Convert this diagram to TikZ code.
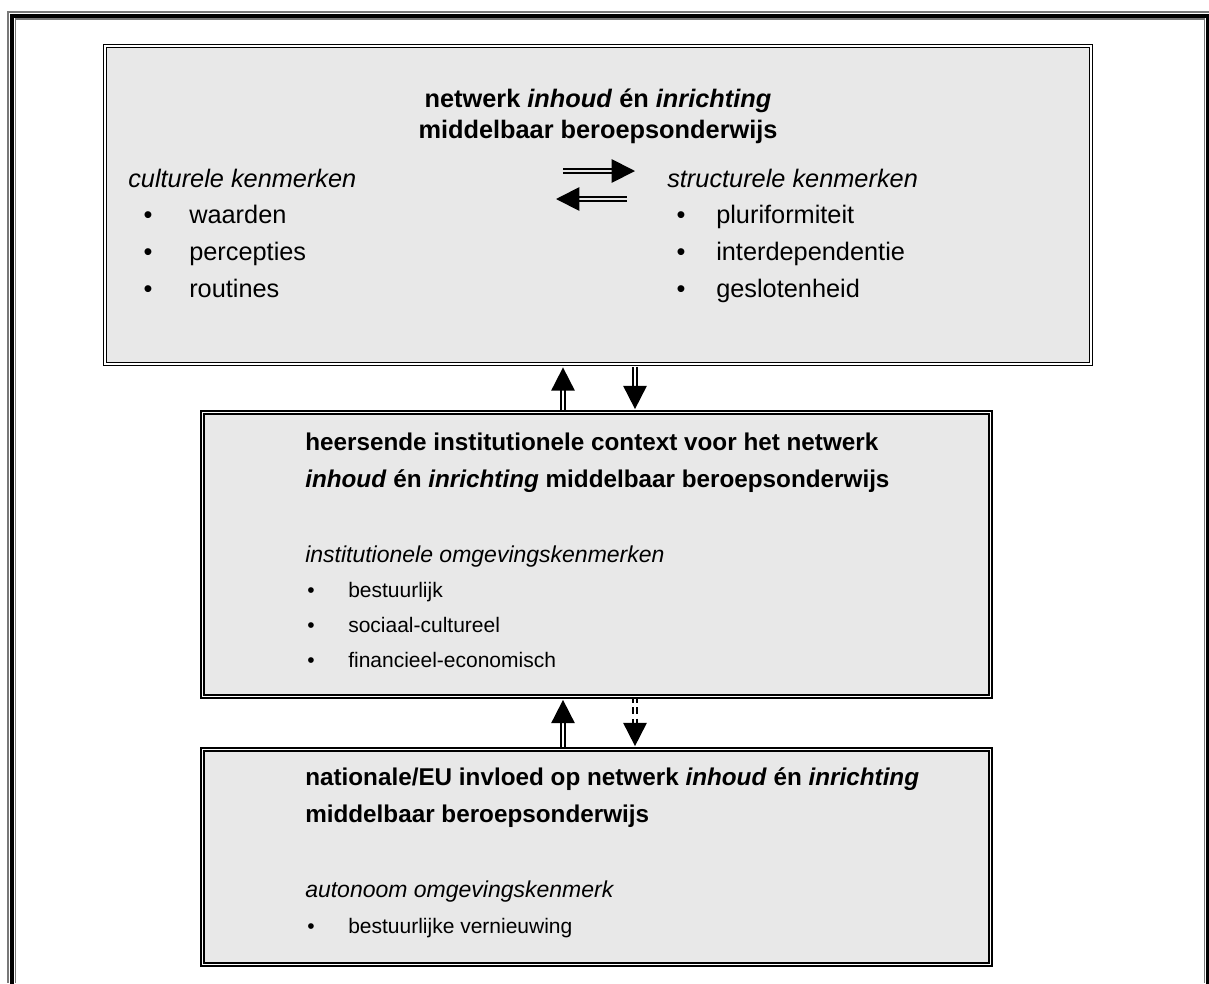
\documentclass[tikz,border=0pt]{standalone}
\usepackage{fontspec}
\setmainfont{Liberation Sans}
\usetikzlibrary{arrows.meta,calc}
\definecolor{panelgray}{RGB}{232,232,232}
\definecolor{edgegray}{RGB}{120,120,120}
\tikzset{
  panel/.style={draw=black, double=white, double distance=0.8pt, line width=1.3pt,
    fill=panelgray, inner sep=0pt},
  big text/.style={anchor=base west, inner sep=0pt, font=\fontsize{19pt}{23pt}\selectfont},
  head text/.style={anchor=base west, inner sep=0pt, font=\fontsize{18.2pt}{23pt}\selectfont\bfseries},
  small text/.style={anchor=base west, inner sep=0pt, font=\fontsize{15.75pt}{19pt}\selectfont},
  dbl arrow/.style={draw=black, double=white, double distance=1.4pt, line width=1.4pt,
    -{Triangle[length=17.5pt,width=17.5pt]}},
  frame line/.style={line width=3pt, line cap=rect}
}
% #1 style, #2 name, #3 bullet x, #4 text x, #5 baseline y, #6 text
\def\Item#1#2#3#4#5#6{%
  \node[#1, anchor=base] (#2-dot) at (#3,#5) {\textbullet};
  \node[#1] (#2) at (#4,#5) {#6};
}

\begin{document}
\begin{tikzpicture}[x=0.75pt,y=-0.75pt]
\useasboundingbox (0,0) rectangle (1209,983);
% outer frame, open at the bottom
\draw[edgegray, line width=1.1pt] (8,983) -- (8,12) -- (1209,12);
\draw[frame line] (12,983) -- (12,15.5) -- (1207.5,15.5) -- (1207.5,983);
\draw[edgegray, line width=1pt] (15.5,983) -- (15.5,19) -- (1204.5,19) -- (1204.5,983);

% the three panels
\node[panel, minimum width=739.5pt, minimum height=238.5pt] (net) at (598,205) {};
\node[panel, minimum width=591pt, minimum height=213pt] (ctx) at (596.5,554.5) {};
\node[panel, minimum width=591pt, minimum height=161.25pt] (nat) at (596.5,857) {};

% top panel
\node[big text, anchor=base, font=\fontsize{19pt}{23pt}\selectfont\bfseries]
  (netTitleA) at (598,107) {netwerk \textit{inhoud} én \textit{inrichting}};
\node[big text, anchor=base, font=\fontsize{19pt}{23pt}\selectfont\bfseries]
  (netTitleB) at (598,138) {middelbaar beroepsonderwijs};
\node[big text] (cult) at (128,187) {\textit{culturele kenmerken}};
\Item{big text}{waa}{148}{189}{223}{waarden}
\Item{big text}{per}{148}{189}{260}{percepties}
\Item{big text}{rou}{148}{189}{297}{routines}
\node[big text] (struc) at (667,187) {\textit{structurele kenmerken}};
\Item{big text}{plu}{681}{716}{223}{pluriformiteit}
\Item{big text}{int}{681}{716}{260}{interdependentie}
\Item{big text}{ges}{681}{716}{297}{geslotenheid}

\coordinate (rA) at (563,171);
\coordinate (rB) at (635,171);
\coordinate (lA) at (627,199);
\coordinate (lB) at (556,199);
\draw[dbl arrow, double=panelgray] (rA) -- (rB);
\draw[dbl arrow, double=panelgray] (lA) -- (lB);

% middle panel
\node[head text] (ctxTitleA) at (305,450)
  {heersende institutionele context voor het netwerk};
\node[head text] (ctxTitleB) at (305,487)
  {\textit{inhoud} én \textit{inrichting} middelbaar beroepsonderwijs};
\node[big text, font=\fontsize{17.25pt}{20pt}\selectfont] (inst) at (305,562)
  {\textit{institutionele omgevingskenmerken}};
\Item{small text}{bes}{311}{348}{597}{bestuurlijk}
\Item{small text}{soc}{311}{348}{632}{sociaal-cultureel}
\Item{small text}{fin}{311}{348}{667}{financieel-economisch}

% bottom panel
\node[head text] (natTitleA) at (305,785)
  {nationale/EU invloed op netwerk \textit{inhoud} én \textit{inrichting}};
\node[head text] (natTitleB) at (305,822) {middelbaar beroepsonderwijs};
\node[big text, font=\fontsize{17.25pt}{20pt}\selectfont] (auto) at (305,897)
  {\textit{autonoom omgevingskenmerk}};
\Item{small text}{ver}{311}{348}{933}{bestuurlijke vernieuwing}

% links between the panels
\draw[dbl arrow] ($(ctx.north)+(-33.5,-2)$) -- ($(net.south)+(-35,2.5)$);
\draw[dbl arrow] ($(net.south)+(37,2)$) -- ($(ctx.north)+(38.5,-2.5)$);
\draw[dbl arrow] ($(nat.north)+(-33.5,-2)$) -- ($(ctx.south)+(-33.5,2.5)$);
\draw[dbl arrow, dash pattern=on 5pt off 3.5pt, dash phase=-6pt]
  ($(ctx.south)+(38.5,2)$) -- ($(nat.north)+(38.5,-2.5)$);
\end{tikzpicture}
\end{document}
